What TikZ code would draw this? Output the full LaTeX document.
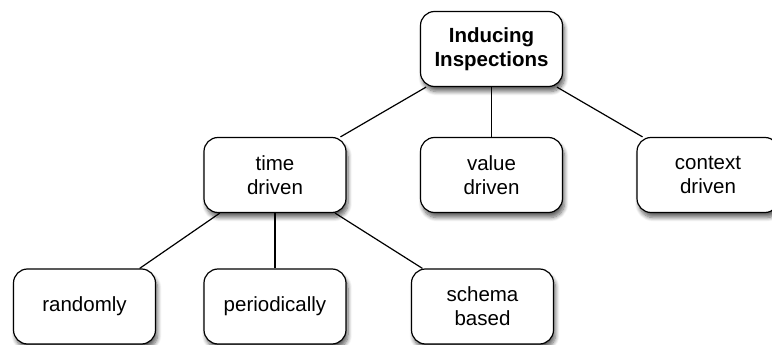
\documentclass[tikz,border=0pt]{standalone}
\usepackage{fontspec}
\setmainfont{Liberation Sans}
\usetikzlibrary{shadows.blur}

\begin{document}
\begin{tikzpicture}[x=1pt,y=-1pt,line width=1.2pt,
  every node/.style={font=\fontsize{20.5}{24}\selectfont,align=center},
  box/.style={draw,rounded corners=14pt,fill=white,minimum width=142pt,minimum height=75pt,inner sep=0pt,
    blur shadow={shadow xshift=2pt,shadow yshift=-5pt,shadow blur steps=8,shadow blur radius=4pt,shadow opacity=60}}]
\useasboundingbox (0,0) rectangle (772,345);
\node[box] (root) at (491.5,49) {\textbf{Inducing}\\\textbf{Inspections}};
\node[box] (time) at (275,175) {time\\driven};
\node[box] (value) at (491.5,175) {value\\driven};
\node[box] (context) at (708,175) {context\\driven};
\node[box] (random) at (84.5,306.5) {randomly};
\node[box] (period) at (275,306.5) {periodically};
\node[box] (schema) at (482.5,306.5) {schema\\based};
\draw (root)--(time);\draw (root)--(value);\draw (root)--(context);
\draw (time)--(random);\draw (time)--(period);\draw (time)--(schema);
\end{tikzpicture}
\end{document}
